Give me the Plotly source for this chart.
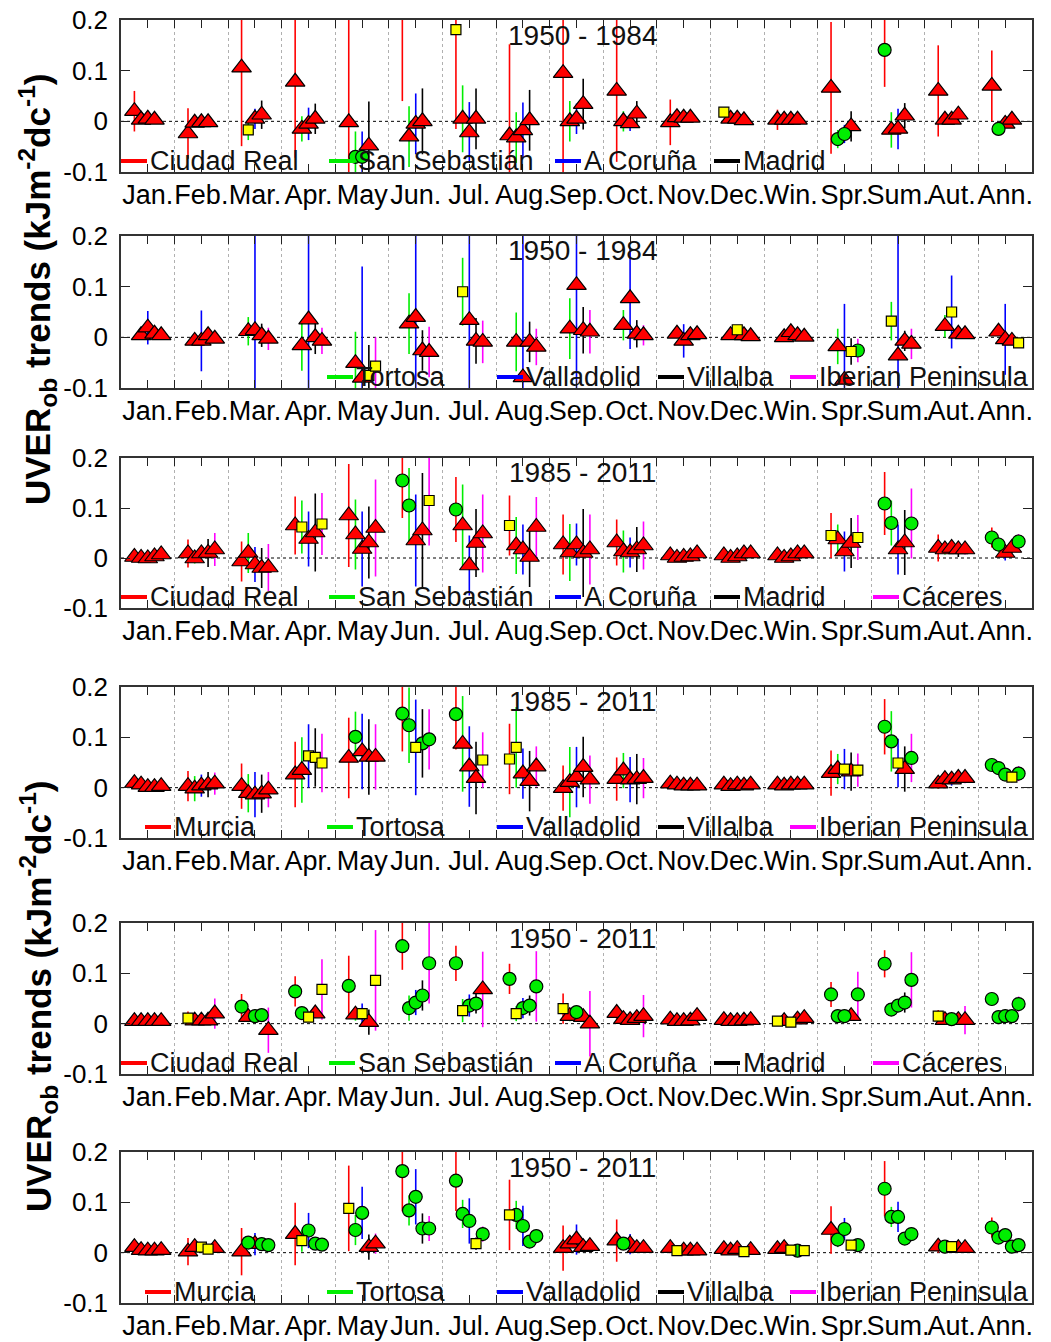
import plotly.graph_objects as go

# ---------------- categories ----------------
categories = ["Jan.", "Feb.", "Mar.", "Apr.", "May", "Jun.", "Jul.", "Aug.", "Sep.",
              "Oct.", "Nov.", "Dec.", "Win.", "Spr.", "Sum.", "Aut.", "Ann."]
y_ticks = [-0.1, 0, 0.1, 0.2]
y_tick_labels = ["-0.1", "0", "0.1", "0.2"]
panel_titles = ["1950 - 1984", "1950 - 1984", "1985 - 2011", "1985 - 2011", "1950 - 2011", "1950 - 2011"]

# marker codes: T = triangle (red), C = circle (green), S = square (yellow)

# ---------------- Panel 1 (1950-1984) ----------------
p1_ciudad_real_val = [0.02, -0.024, 0.106, 0.078, -0.002, 0.22, 0.181, -0.028, 0.095, 0.06, -0.002, 0.018, 0.003, 0.066, 0.141, 0.06, 0.07]
p1_ciudad_real_err = [0.04, 0.05, 0.155, 0.15, 0.25, 0.18, 0.196, 0.18, 0.25, 0.14, 0.045, 0.005, 0.02, 0.13, 0.073, 0.09, 0.07]
p1_ciudad_real_sym = "TTTTTTSTTTTSTTCTT"
p1_san_sebastian_val = [0.003, -0.003, -0.017, -0.015, -0.07, -0.03, 0.005, -0.032, 0.0, 0.0, 0.008, 0.005, 0.003, -0.035, -0.017, 0.003, -0.015]
p1_san_sebastian_err = [0.005, 0.005, 0.02, 0.025, 0.05, 0.06, 0.066, 0.05, 0.04, 0.02, 0.005, 0.005, 0.005, 0.018, 0.035, 0.01, 0.005]
p1_san_sebastian_sym = "TTSTCTTTTTTTTCTTC"
p1_a_coruna_val = [0.005, -0.002, 0.005, -0.005, -0.07, -0.005, -0.022, -0.018, 0.005, -0.004, 0.007, 0.005, 0.003, -0.025, -0.015, 0.003, -0.005]
p1_a_coruna_err = [0.005, 0.005, 0.02, 0.032, 0.05, 0.06, 0.06, 0.055, 0.03, 0.015, 0.005, 0.005, 0.005, 0.018, 0.04, 0.005, 0.005]
p1_a_coruna_sym = "TTTTCTTTTTTTTCTTT"
p1_madrid_val = [0.003, -0.002, 0.013, 0.005, -0.048, 0.0, 0.005, 0.002, 0.034, 0.015, 0.007, 0.002, 0.003, -0.01, 0.011, 0.013, 0.003]
p1_madrid_err = [0.005, 0.005, 0.028, 0.03, 0.087, 0.065, 0.06, 0.06, 0.05, 0.025, 0.005, 0.005, 0.005, 0.03, 0.025, 0.015, 0.005]
p1_madrid_sym = "TTTTTTTTTTTTTTTTT"

# ---------------- Panel 2 (1950-1984) ----------------
p2_tortosa_val = [0.004, -0.007, 0.012, -0.016, -0.051, 0.027, 0.09, -0.009, 0.017, 0.024, 0.007, 0.004, 0.0, -0.018, 0.032, 0.022, 0.011]
p2_tortosa_err = [0.005, 0.01, 0.028, 0.05, 0.062, 0.06, 0.067, 0.058, 0.06, 0.03, 0.005, 0.005, 0.005, 0.035, 0.038, 0.022, 0.005]
p2_tortosa_sym = "TTTTTTSTTTTTTTSTT"
p2_valladolid_val = [0.019, -0.007, 0.014, 0.035, -0.08, 0.04, 0.034, -0.079, 0.103, 0.077, -0.007, 0.015, 0.01, -0.084, -0.036, 0.05, -0.004]
p2_valladolid_err = [0.033, 0.06, 0.3, 0.3, 0.22, 0.3, 0.3, 0.3, 0.3, 0.1, 0.033, 0.005, 0.01, 0.15, 0.3, 0.072, 0.07]
p2_valladolid_sym = "TTTTTTTTTTTSTTTST"
p2_villalba_val = [0.007, 0.004, 0.004, 0.0, -0.075, -0.026, -0.007, -0.009, 0.014, 0.007, 0.004, 0.004, 0.004, -0.028, -0.007, 0.007, -0.007]
p2_villalba_err = [0.005, 0.005, 0.023, 0.033, 0.06, 0.04, 0.045, 0.04, 0.046, 0.027, 0.005, 0.005, 0.005, 0.026, 0.02, 0.005, 0.005]
p2_villalba_sym = "TTTTSTTTTTTTTSTTT"
p2_iberian_val = [0.004, -0.003, -0.003, -0.007, -0.057, -0.029, -0.009, -0.019, 0.011, 0.004, 0.006, 0.002, 0.001, -0.026, -0.013, 0.006, -0.011]
p2_iberian_err = [0.005, 0.005, 0.022, 0.026, 0.057, 0.05, 0.042, 0.036, 0.043, 0.02, 0.005, 0.005, 0.005, 0.023, 0.03, 0.005, 0.005]
p2_iberian_sym = "TTTTSTTTTTTTTCTTS"

# ---------------- Panel 3 (1985-2011) ----------------
p3_ciudad_real_val = [0.002, 0.009, -0.007, 0.065, 0.085, 0.155, 0.097, 0.065, 0.027, 0.031, 0.005, 0.005, 0.005, 0.045, 0.109, 0.02, 0.041]
p3_ciudad_real_err = [0.004, 0.028, 0.04, 0.058, 0.103, 0.075, 0.065, 0.06, 0.06, 0.046, 0.005, 0.005, 0.005, 0.045, 0.063, 0.027, 0.02]
p3_ciudad_real_sym = "TTTTTCCSTTTTTSCTC"
p3_san_sebastian_val = [0.0, -0.001, 0.01, 0.062, 0.047, 0.105, 0.065, 0.025, 0.011, 0.013, 0.0, 0.0, 0.0, 0.037, 0.07, 0.017, 0.027]
p3_san_sebastian_err = [0.004, 0.01, 0.04, 0.053, 0.07, 0.075, 0.082, 0.057, 0.057, 0.042, 0.005, 0.005, 0.005, 0.03, 0.045, 0.01, 0.015]
p3_san_sebastian_sym = "TTTSTCTTTTTTTTCTC"
p3_a_coruna_val = [-0.001, 0.009, -0.013, 0.038, 0.018, 0.035, -0.015, 0.017, 0.027, 0.011, 0.002, 0.003, 0.003, 0.013, 0.017, 0.02, 0.01]
p3_a_coruna_err = [0.004, 0.01, 0.035, 0.055, 0.075, 0.092, 0.06, 0.05, 0.042, 0.03, 0.005, 0.005, 0.005, 0.04, 0.05, 0.01, 0.015]
p3_a_coruna_sym = "TTTTTTTTTTTTTTTTT"
p3_madrid_val = [0.003, 0.01, -0.02, 0.051, 0.031, 0.055, 0.03, 0.002, 0.01, 0.017, 0.003, 0.009, 0.009, 0.03, 0.031, 0.017, 0.02]
p3_madrid_err = [0.004, 0.028, 0.04, 0.078, 0.072, 0.115, 0.068, 0.06, 0.088, 0.045, 0.005, 0.005, 0.005, 0.05, 0.065, 0.015, 0.01]
p3_madrid_sym = "TTTTTTTTTTTTTTTTT"
p3_caceres_val = [0.007, 0.017, -0.019, 0.068, 0.06, 0.115, 0.049, 0.062, 0.017, 0.025, 0.009, 0.009, 0.009, 0.041, 0.069, 0.017, 0.033]
p3_caceres_err = [0.004, 0.033, 0.047, 0.062, 0.097, 0.09, 0.078, 0.06, 0.07, 0.048, 0.005, 0.005, 0.005, 0.045, 0.07, 0.01, 0.015]
p3_caceres_sym = "TTTSTSTTTTTTTSCTC"

# ---------------- Panel 4 (1985-2011) ----------------
p4_murcia_val = [0.009, 0.003, 0.003, 0.026, 0.059, 0.147, 0.146, 0.057, -0.001, 0.017, 0.008, 0.006, 0.006, 0.029, 0.121, 0.008, 0.045]
p4_murcia_err = [0.004, 0.03, 0.045, 0.065, 0.08, 0.075, 0.07, 0.07, 0.045, 0.043, 0.01, 0.005, 0.005, 0.045, 0.055, 0.01, 0.01]
p4_murcia_sym = "TTTTTCCSTTTTTTCTC"
p4_tortosa_val = [0.006, -0.002, -0.011, 0.035, 0.101, 0.124, 0.087, 0.08, 0.011, 0.034, 0.006, 0.003, 0.004, 0.037, 0.092, 0.017, 0.039]
p4_tortosa_err = [0.004, 0.025, 0.038, 0.065, 0.05, 0.075, 0.095, 0.08, 0.07, 0.035, 0.005, 0.005, 0.005, 0.03, 0.06, 0.01, 0.012]
p4_tortosa_sym = "TTTTCCTSTTTTTTCTC"
p4_valladolid_val = [0.001, 0.004, -0.014, 0.063, 0.072, 0.08, 0.042, 0.028, 0.021, 0.016, 0.004, 0.006, 0.006, 0.037, 0.049, 0.016, 0.026]
p4_valladolid_err = [0.004, 0.022, 0.045, 0.063, 0.075, 0.095, 0.08, 0.05, 0.06, 0.045, 0.005, 0.005, 0.005, 0.04, 0.048, 0.012, 0.012]
p4_valladolid_sym = "TTTSTSTTTTTTTSSTC"
p4_villalba_val = [0.001, 0.006, -0.012, 0.06, 0.061, 0.088, 0.019, 0.013, 0.041, 0.017, 0.004, 0.004, 0.006, 0.032, 0.037, 0.019, 0.021]
p4_villalba_err = [0.004, 0.025, 0.038, 0.058, 0.075, 0.068, 0.072, 0.06, 0.06, 0.05, 0.005, 0.005, 0.005, 0.038, 0.045, 0.01, 0.01]
p4_villalba_sym = "TTTSTCTTTTTTTTTTS"
p4_iberian_val = [0.003, 0.008, -0.004, 0.049, 0.061, 0.096, 0.055, 0.042, 0.016, 0.019, 0.004, 0.006, 0.006, 0.035, 0.059, 0.019, 0.028]
p4_iberian_err = [0.004, 0.022, 0.035, 0.058, 0.065, 0.06, 0.055, 0.04, 0.048, 0.04, 0.005, 0.005, 0.005, 0.033, 0.048, 0.01, 0.015]
p4_iberian_sym = "TTTSTCSTTTTTTSCTC"

# ---------------- Panel 5 (1950-2011) ----------------
p5_ciudad_real_val = [0.005, 0.011, 0.034, 0.064, 0.075, 0.154, 0.12, 0.089, 0.03, 0.021, 0.008, 0.007, 0.005, 0.058, 0.119, 0.015, 0.049]
p5_ciudad_real_err = [0.003, 0.013, 0.025, 0.03, 0.06, 0.047, 0.035, 0.03, 0.03, 0.015, 0.005, 0.005, 0.005, 0.025, 0.027, 0.012, 0.008]
p5_ciudad_real_sym = "TSCCCCCCSTTTSCCSC"
p5_san_sebastian_val = [0.005, 0.006, 0.013, 0.021, 0.018, 0.031, 0.026, 0.02, 0.015, 0.009, 0.005, 0.005, 0.005, 0.015, 0.028, 0.007, 0.013]
p5_san_sebastian_err = [0.003, 0.004, 0.01, 0.012, 0.012, 0.025, 0.023, 0.015, 0.01, 0.005, 0.004, 0.004, 0.004, 0.008, 0.012, 0.005, 0.005]
p5_san_sebastian_sym = "TTTCTCSSTTTTTCCTC"
p5_a_coruna_val = [0.005, 0.006, 0.015, 0.013, 0.02, 0.042, 0.036, 0.031, 0.023, 0.007, 0.005, 0.005, 0.003, 0.015, 0.036, 0.009, 0.015]
p5_a_coruna_err = [0.003, 0.004, 0.008, 0.008, 0.02, 0.025, 0.022, 0.02, 0.01, 0.005, 0.004, 0.004, 0.004, 0.008, 0.012, 0.005, 0.005]
p5_a_coruna_sym = "TTCSSCCCCTTTSCCCC"
p5_madrid_val = [0.005, 0.006, 0.017, 0.02, 0.003, 0.056, 0.04, 0.036, 0.013, 0.011, 0.006, 0.006, 0.008, 0.015, 0.042, 0.007, 0.015]
p5_madrid_err = [0.003, 0.004, 0.008, 0.008, 0.025, 0.03, 0.02, 0.02, 0.008, 0.005, 0.004, 0.004, 0.004, 0.008, 0.02, 0.005, 0.005]
p5_madrid_sym = "TTCTTCCCTTTTTTCTC"
p5_caceres_val = [0.005, 0.02, -0.013, 0.068, 0.086, 0.12, 0.068, 0.074, 0.0, 0.015, 0.015, 0.007, 0.011, 0.058, 0.087, 0.007, 0.039]
p5_caceres_err = [0.003, 0.03, 0.045, 0.06, 0.1, 0.08, 0.075, 0.07, 0.065, 0.042, 0.005, 0.004, 0.004, 0.045, 0.055, 0.028, 0.015]
p5_caceres_sym = "TTTSSCTCTTTTTCCTC"

# ---------------- Panel 6 (1950-2011) ----------------
p6_murcia_val = [0.011, 0.002, 0.002, 0.037, 0.088, 0.162, 0.143, 0.075, 0.009, 0.024, 0.009, 0.007, 0.007, 0.045, 0.127, 0.012, 0.05]
p6_murcia_err = [0.004, 0.027, 0.047, 0.062, 0.085, 0.08, 0.06, 0.07, 0.045, 0.042, 0.01, 0.004, 0.005, 0.047, 0.055, 0.012, 0.02]
p6_murcia_sym = "TTTTSCCSTTTTTTCTC"
p6_tortosa_val = [0.005, 0.011, 0.02, 0.024, 0.045, 0.084, 0.077, 0.075, 0.018, 0.018, 0.004, 0.004, 0.009, 0.026, 0.071, 0.012, 0.03]
p6_tortosa_err = [0.003, 0.005, 0.01, 0.022, 0.03, 0.03, 0.028, 0.028, 0.01, 0.008, 0.004, 0.004, 0.004, 0.015, 0.02, 0.005, 0.008]
p6_tortosa_sym = "TTCSCCCCTCSTTCCCC"
p6_valladolid_val = [0.004, 0.011, 0.017, 0.044, 0.079, 0.111, 0.063, 0.053, 0.026, 0.017, 0.004, 0.007, 0.005, 0.047, 0.071, 0.012, 0.035]
p6_valladolid_err = [0.003, 0.005, 0.022, 0.035, 0.052, 0.055, 0.045, 0.04, 0.03, 0.02, 0.004, 0.004, 0.004, 0.022, 0.03, 0.005, 0.008]
p6_valladolid_sym = "TSTCCCCCTTTTSCCSC"
p6_villalba_val = [0.004, 0.007, 0.017, 0.018, 0.011, 0.048, 0.018, 0.022, 0.011, 0.009, 0.004, 0.002, 0.004, 0.015, 0.028, 0.009, 0.012]
p6_villalba_err = [0.003, 0.004, 0.008, 0.008, 0.025, 0.03, 0.012, 0.01, 0.01, 0.005, 0.004, 0.004, 0.004, 0.008, 0.01, 0.005, 0.005]
p6_villalba_sym = "TSCCTCSCTTTSCSCTC"
p6_iberian_val = [0.005, 0.009, 0.015, 0.016, 0.018, 0.048, 0.037, 0.033, 0.013, 0.009, 0.004, 0.005, 0.004, 0.015, 0.037, 0.009, 0.015]
p6_iberian_err = [0.003, 0.004, 0.008, 0.008, 0.02, 0.025, 0.015, 0.01, 0.008, 0.005, 0.004, 0.004, 0.004, 0.008, 0.01, 0.005, 0.005]
p6_iberian_sym = "TTCCTCCCTTTTSCCTC"

# ---------------- styling ----------------
FONT = "Liberation Sans, Arial, sans-serif"
W, H = 1051, 1342
PLOT_L, PLOT_R = 121, 1032
STATION_STEP = 0.125
bar_colors = {"red": "#ff0000", "green": "#00ee00", "blue": "#0000ff", "black": "#000000", "magenta": "#ff00ff"}
sym_style = {
    "T": dict(symbol="triangle-up", size=17, color="#ff0000"),
    "C": dict(symbol="circle", size=13, color="#00ee00"),
    "S": dict(symbol="square", size=10, color="#ffff00"),
}

panels = [
    [("Ciudad Real", "red", -2, p1_ciudad_real_val, p1_ciudad_real_err, p1_ciudad_real_sym),
     ("San Sebastián", "green", -1, p1_san_sebastian_val, p1_san_sebastian_err, p1_san_sebastian_sym),
     ("A Coruña", "blue", 0, p1_a_coruna_val, p1_a_coruna_err, p1_a_coruna_sym),
     ("Madrid", "black", 1, p1_madrid_val, p1_madrid_err, p1_madrid_sym)],
    [("Tortosa", "green", -1, p2_tortosa_val, p2_tortosa_err, p2_tortosa_sym),
     ("Valladolid", "blue", 0, p2_valladolid_val, p2_valladolid_err, p2_valladolid_sym),
     ("Villalba", "black", 1, p2_villalba_val, p2_villalba_err, p2_villalba_sym),
     ("Iberian Peninsula", "magenta", 2, p2_iberian_val, p2_iberian_err, p2_iberian_sym)],
    [("Ciudad Real", "red", -2, p3_ciudad_real_val, p3_ciudad_real_err, p3_ciudad_real_sym),
     ("San Sebastián", "green", -1, p3_san_sebastian_val, p3_san_sebastian_err, p3_san_sebastian_sym),
     ("A Coruña", "blue", 0, p3_a_coruna_val, p3_a_coruna_err, p3_a_coruna_sym),
     ("Madrid", "black", 1, p3_madrid_val, p3_madrid_err, p3_madrid_sym),
     ("Cáceres", "magenta", 2, p3_caceres_val, p3_caceres_err, p3_caceres_sym)],
    [("Murcia", "red", -2, p4_murcia_val, p4_murcia_err, p4_murcia_sym),
     ("Tortosa", "green", -1, p4_tortosa_val, p4_tortosa_err, p4_tortosa_sym),
     ("Valladolid", "blue", 0, p4_valladolid_val, p4_valladolid_err, p4_valladolid_sym),
     ("Villalba", "black", 1, p4_villalba_val, p4_villalba_err, p4_villalba_sym),
     ("Iberian Peninsula", "magenta", 2, p4_iberian_val, p4_iberian_err, p4_iberian_sym)],
    [("Ciudad Real", "red", -2, p5_ciudad_real_val, p5_ciudad_real_err, p5_ciudad_real_sym),
     ("San Sebastián", "green", -1, p5_san_sebastian_val, p5_san_sebastian_err, p5_san_sebastian_sym),
     ("A Coruña", "blue", 0, p5_a_coruna_val, p5_a_coruna_err, p5_a_coruna_sym),
     ("Madrid", "black", 1, p5_madrid_val, p5_madrid_err, p5_madrid_sym),
     ("Cáceres", "magenta", 2, p5_caceres_val, p5_caceres_err, p5_caceres_sym)],
    [("Murcia", "red", -2, p6_murcia_val, p6_murcia_err, p6_murcia_sym),
     ("Tortosa", "green", -1, p6_tortosa_val, p6_tortosa_err, p6_tortosa_sym),
     ("Valladolid", "blue", 0, p6_valladolid_val, p6_valladolid_err, p6_valladolid_sym),
     ("Villalba", "black", 1, p6_villalba_val, p6_villalba_err, p6_villalba_sym),
     ("Iberian Peninsula", "magenta", 2, p6_iberian_val, p6_iberian_err, p6_iberian_sym)],
]

legend_a = {"Ciudad Real": 121, "San Sebastián": 329, "A Coruña": 555, "Madrid": 714, "Cáceres": 873}
legend_b = {"Murcia": 145, "Tortosa": 327, "Valladolid": 497, "Villalba": 658, "Iberian Peninsula": 790}

panel_px = [(20, 172), (236, 388), (458, 608), (687, 838), (923, 1074), (1152, 1303)]
PLOT_T, PLOT_B = 20, 1303

fig = go.Figure()
layout = dict(width=W, height=H, paper_bgcolor="white", plot_bgcolor="white",
              margin=dict(l=PLOT_L, r=W - PLOT_R, t=PLOT_T, b=H - PLOT_B, autoexpand=False),
              showlegend=False, font=dict(family=FONT, color="black"))
shapes, annotations = [], []

cat_pos = list(range(1, len(categories) + 1))
boundaries = [c + 0.5 for c in cat_pos[:-1]]

for p, stations in enumerate(panels):
    ax = "" if p == 0 else str(p + 1)
    xref, yref = "x" + ax, "y" + ax
    top, bot = panel_px[p]
    dom = [(PLOT_B - bot) / (PLOT_B - PLOT_T), (PLOT_B - top) / (PLOT_B - PLOT_T)]

    for name, ckey, slot, val, err, sym in stations:
        xs = [c + slot * STATION_STEP for c in cat_pos]
        fig.add_trace(go.Scatter(
            x=xs, y=val, mode="markers", xaxis=xref, yaxis=yref,
            marker=dict(size=1, color="rgba(0,0,0,0)"),
            error_y=dict(type="data", array=err, symmetric=True, color=bar_colors[ckey],
                         thickness=1.6, width=0),
            hoverinfo="skip"))
    for code in ["T", "C", "S"]:
        xs, ys = [], []
        for name, ckey, slot, val, err, sym in stations:
            for i, c in enumerate(cat_pos):
                if sym[i] == code:
                    xs.append(c + slot * STATION_STEP)
                    ys.append(val[i])
        st = sym_style[code]
        fig.add_trace(go.Scatter(
            x=xs, y=ys, mode="markers", xaxis=xref, yaxis=yref, cliponaxis=True,
            marker=dict(symbol=st["symbol"], size=st["size"], color=st["color"],
                        line=dict(color="black", width=1.2))))

    layout["xaxis" + ax] = dict(
        domain=[0, 1], anchor=yref, range=[0.5, 17.5], automargin=False,
        tickmode="array", tickvals=cat_pos, ticktext=categories, tickangle=0,
        ticks="inside", ticklen=8, tickwidth=1.2, tickcolor="#222",
        showline=True, linecolor="#333", linewidth=1.5, mirror="allticks",
        showgrid=False, zeroline=False, ticklabelstandoff=-2,
        tickfont=dict(family=FONT, size=27, color="black"),
        minor=dict(tickmode="array", tickvals=boundaries, ticks="inside", ticklen=8,
                   tickcolor="#222", tickwidth=1.2, showgrid=True, gridcolor="#b0b0b0",
                   griddash="dot", gridwidth=1))
    layout["yaxis" + ax] = dict(
        domain=dom, anchor=xref, range=[-0.1, 0.2], automargin=False,
        tickmode="array", tickvals=y_ticks, ticktext=y_tick_labels,
        ticks="inside", ticklen=9, tickwidth=1.2, tickcolor="#222",
        showline=True, linecolor="#333", linewidth=1.5, mirror="allticks",
        showgrid=False, zeroline=False, ticklabelstandoff=6,
        tickfont=dict(family=FONT, size=26, color="black"))

    shapes.append(dict(type="line", xref=xref + " domain", yref=yref, x0=0, x1=1, y0=0, y1=0,
                       line=dict(color="black", width=1, dash="dot"), layer="below"))

    annotations.append(dict(text=panel_titles[p], xref=xref + " domain", yref=yref + " domain",
                            x=(582 - PLOT_L) / (PLOT_R - PLOT_L), y=1 - 15 / (bot - top),
                            xanchor="center", yanchor="middle", showarrow=False,
                            font=dict(family=FONT, size=28, color="#111")))

    leg = legend_a if stations[0][0] in legend_a else legend_b
    ly = 11 / (bot - top)
    for name, ckey, slot, val, err, sym in stations:
        x0 = leg[name]
        shapes.append(dict(type="line", xref=xref + " domain", yref=yref + " domain",
                           x0=(x0 - PLOT_L) / (PLOT_R - PLOT_L), x1=(x0 + 26 - PLOT_L) / (PLOT_R - PLOT_L),
                           y0=ly, y1=ly, line=dict(color=bar_colors[ckey], width=4), layer="above"))
        annotations.append(dict(text=name, xref=xref + " domain", yref=yref + " domain",
                                x=(x0 + 27 - PLOT_L) / (PLOT_R - PLOT_L), y=ly,
                                xanchor="left", yanchor="middle", showarrow=False,
                                font=dict(family=FONT, size=27, color="#111")))

ytitle = "UVER<sub>ob</sub> trends (kJm<sup>-2</sup>dc<sup>-1</sup>)"
for yc in [290, 997]:
    annotations.append(dict(text="<b>" + ytitle + "</b>", xref="paper", yref="paper",
                            x=(38 - PLOT_L) / (PLOT_R - PLOT_L), y=(PLOT_B - yc) / (PLOT_B - PLOT_T),
                            xanchor="center", yanchor="middle", textangle=-90, showarrow=False,
                            font=dict(family=FONT, size=35, color="black")))

layout["shapes"] = shapes
layout["annotations"] = annotations
fig.update_layout(**layout)
fig.write_html("out.html", config={"displayModeBar": False},
               post_script="document.body.style.margin='0';document.body.style.padding='0';"
                           "document.body.style.overflow='hidden';")
